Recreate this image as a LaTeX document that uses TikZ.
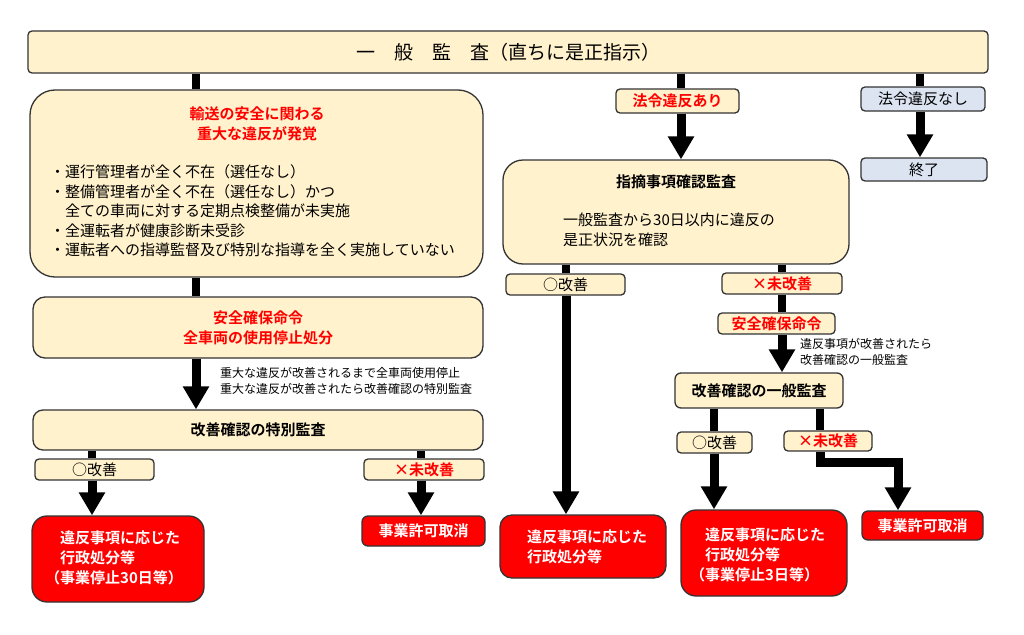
\documentclass[tikz,border=0pt]{standalone}
\usepackage{fontspec}
\setmainfont{Noto Sans CJK JP}[BoldFont={Noto Sans CJK JP Bold}]
\usetikzlibrary{arrows.meta}
\definecolor{cream}{HTML}{FFF2CC}
\definecolor{paleblue}{HTML}{DCE4F2}
\definecolor{edge}{HTML}{333333}
\definecolor{alert}{HTML}{FF0000}
\tikzset{
  basebox/.style={draw=edge, line width=1.3pt, inner sep=0pt, rounded corners=4pt},
  cbox/.style={basebox, fill=cream},
  bbox/.style={basebox, fill=paleblue},
  rbox/.style={basebox, fill=alert, text=white},
  conn/.style={line width=8pt, draw=black, line join=miter},
  arr/.style={line width=9pt, draw=black, line join=miter, -{Triangle[width=25pt,length=23pt]}},
  fnt/.style={font=\fontsize{15}{19.5}\selectfont},
  bfnt/.style={font=\fontsize{15}{20}\selectfont\bfseries},
  note/.style={font=\fontsize{12}{15.5}\selectfont, align=left, anchor=west, inner sep=0pt},
}
\begin{document}
\begin{tikzpicture}[x=1pt,y=-1pt]
\useasboundingbox[fill=white] (0,0) rectangle (1024,634);
% column coordinates
\coordinate (xA) at (196,0);
\coordinate (xB) at (92,0);
\coordinate (xC) at (421,0);
\coordinate (xD) at (681,0);
\coordinate (xF) at (920,0);
\coordinate (xG) at (566,0);
\coordinate (xH) at (782,0);
\coordinate (xI) at (714,0);
\coordinate (xJ) at (820,0);
\coordinate (knee) at (898,462);

% boxes
\node[cbox, minimum width=960pt, minimum height=42pt, font=\fontsize{19}{22}\selectfont] (top) at (508,52) {一　般　監　査（直ちに是正指示）};

\node[cbox, rounded corners=25pt, minimum width=453pt, minimum height=187pt] (big) at (256.5,183.5) {};
\node[bfnt, text=alert, align=center, inner sep=0pt] (bigtitle) at (257,124) {輸送の安全に関わる\\重大な違反が発覚};
\node[fnt, align=left, anchor=west, inner sep=0pt] (bullets) at (50,211) {・運行管理者が全く不在（選任なし）\\・整備管理者が全く不在（選任なし）かつ\\\hspace*{15pt}全ての車両に対する定期点検整備が未実施\\・全運転者が健康診断未受診\\・運転者への指導監督及び特別な指導を全く実施していない};

\node[cbox, rounded corners=12pt, minimum width=450pt, minimum height=61pt, bfnt, text=alert, align=center] (anzen) at (258,327.5) {安全確保命令\\全車両の使用停止処分};
\node[note] (anzennote) at (220,381) {重大な違反が改善されるまで全車両使用停止\\重大な違反が改善されたら改善確認の特別監査};

\node[cbox, rounded corners=10pt, minimum width=450pt, minimum height=40pt, bfnt] (toku) at (258,430) {改善確認の特別監査};
\node[cbox, minimum width=119pt, minimum height=21pt, fnt] (kaiL) at (94.5,469.5) {○改善};
\node[cbox, minimum width=120pt, minimum height=21pt, bfnt, text=alert] (mikL) at (424,469.5) {×未改善};
\node[rbox, rounded corners=15pt, minimum width=172pt, minimum height=86pt] (redL) at (118,559) {};
\node[bfnt, text=white, align=left, anchor=west, inner sep=0pt] (redLtext) at (60,558) {違反事項に応じた\\行政処分等\\\hspace*{-15pt}（事業停止30日等）};
\node[rbox, rounded corners=6pt, minimum width=123pt, minimum height=30pt, bfnt] (torL) at (423.5,531) {事業許可取消};

\node[cbox, minimum width=123pt, minimum height=24pt, bfnt, text=alert] (ari) at (677.5,101) {法令違反あり};
\node[bbox, minimum width=124pt, minimum height=24pt, fnt] (nashi) at (923,99) {法令違反なし};
\node[bbox, minimum width=126pt, minimum height=23pt, fnt] (shuryo) at (924,169.5) {終了};

\node[cbox, rounded corners=20pt, minimum width=346pt, minimum height=104pt] (shiteki) at (676,212) {};
\node[bfnt, inner sep=0pt] (shitekititle) at (676,182) {指摘事項確認監査};
\node[fnt, align=left, anchor=west, inner sep=0pt] (shitekitext) at (563,230) {一般監査から30日以内に違反の\\是正状況を確認};

\node[cbox, minimum width=119pt, minimum height=21pt, fnt] (kaiM) at (565.5,284.5) {○改善};
\node[cbox, minimum width=120pt, minimum height=21pt, bfnt, text=alert] (mikM) at (782,283.5) {×未改善};
\node[cbox, minimum width=117pt, minimum height=21pt, bfnt, text=alert] (anzenS) at (776.5,323.5) {安全確保命令};
\node[note] (ippannote) at (800,352) {違反事項が改善されたら\\改善確認の一般監査};
\node[cbox, rounded corners=6pt, minimum width=168pt, minimum height=35pt, bfnt] (ippan) at (759,390.5) {改善確認の一般監査};
\node[cbox, minimum width=75pt, minimum height=21pt, fnt] (kaiR) at (714.5,442.5) {○改善};
\node[cbox, minimum width=88pt, minimum height=20pt, bfnt, text=alert] (mikR) at (828,441) {×未改善};

\node[rbox, rounded corners=12pt, minimum width=166pt, minimum height=63pt] (redM) at (583,546.5) {};
\node[bfnt, text=white, align=left, anchor=west, inner sep=0pt] (redMtext) at (527,547) {違反事項に応じた\\行政処分等};
\node[rbox, rounded corners=15pt, minimum width=166pt, minimum height=86pt] (redR) at (764,553) {};
\node[bfnt, text=white, align=left, anchor=west, inner sep=0pt] (redRtext) at (705,555) {違反事項に応じた\\行政処分等\\\hspace*{-15pt}（事業停止3日等）};
\node[rbox, rounded corners=6pt, minimum width=121pt, minimum height=29pt, bfnt] (torR) at (922.5,525.5) {事業許可取消};

% connectors
\draw[conn] (top.south -| xA) -- (big.north -| xA);
\draw[conn] (big.south -| xA) -- (anzen.north -| xA);
\draw[arr] (anzen.south -| xA) -- (toku.north -| xA);
\draw[conn] (toku.south -| xB) -- (kaiL.north -| xB);
\draw[arr] (kaiL.south -| xB) -- (redL.north -| xB);
\draw[conn] (toku.south -| xC) -- (mikL.north -| xC);
\draw[arr] (mikL.south -| xC) -- (torL.north -| xC);
\draw[conn] (top.south -| xD) -- (ari.north -| xD);
\draw[arr] (ari.south -| xD) -- (shiteki.north -| xD);
\draw[conn] (top.south -| xF) -- (nashi.north -| xF);
\draw[arr] (nashi.south -| xF) -- (shuryo.north -| xF);
\draw[conn] (shiteki.south -| xG) -- (kaiM.north -| xG);
\draw[arr] (kaiM.south -| xG) -- (redM.north -| xG);
\draw[conn] (shiteki.south -| xH) -- (mikM.north -| xH);
\draw[conn] (mikM.south -| xH) -- (anzenS.north -| xH);
\draw[arr] (anzenS.south -| xH) -- (ippan.north -| xH);
\draw[conn] (ippan.south -| xI) -- (kaiR.north -| xI);
\draw[arr] (kaiR.south -| xI) -- (redR.north -| xI);
\draw[conn] (ippan.south -| xJ) -- (mikR.north -| xJ);
\draw[arr] (mikR.south -| xJ) |- (knee) -- (torR.north -| knee);
\end{tikzpicture}
\end{document}
